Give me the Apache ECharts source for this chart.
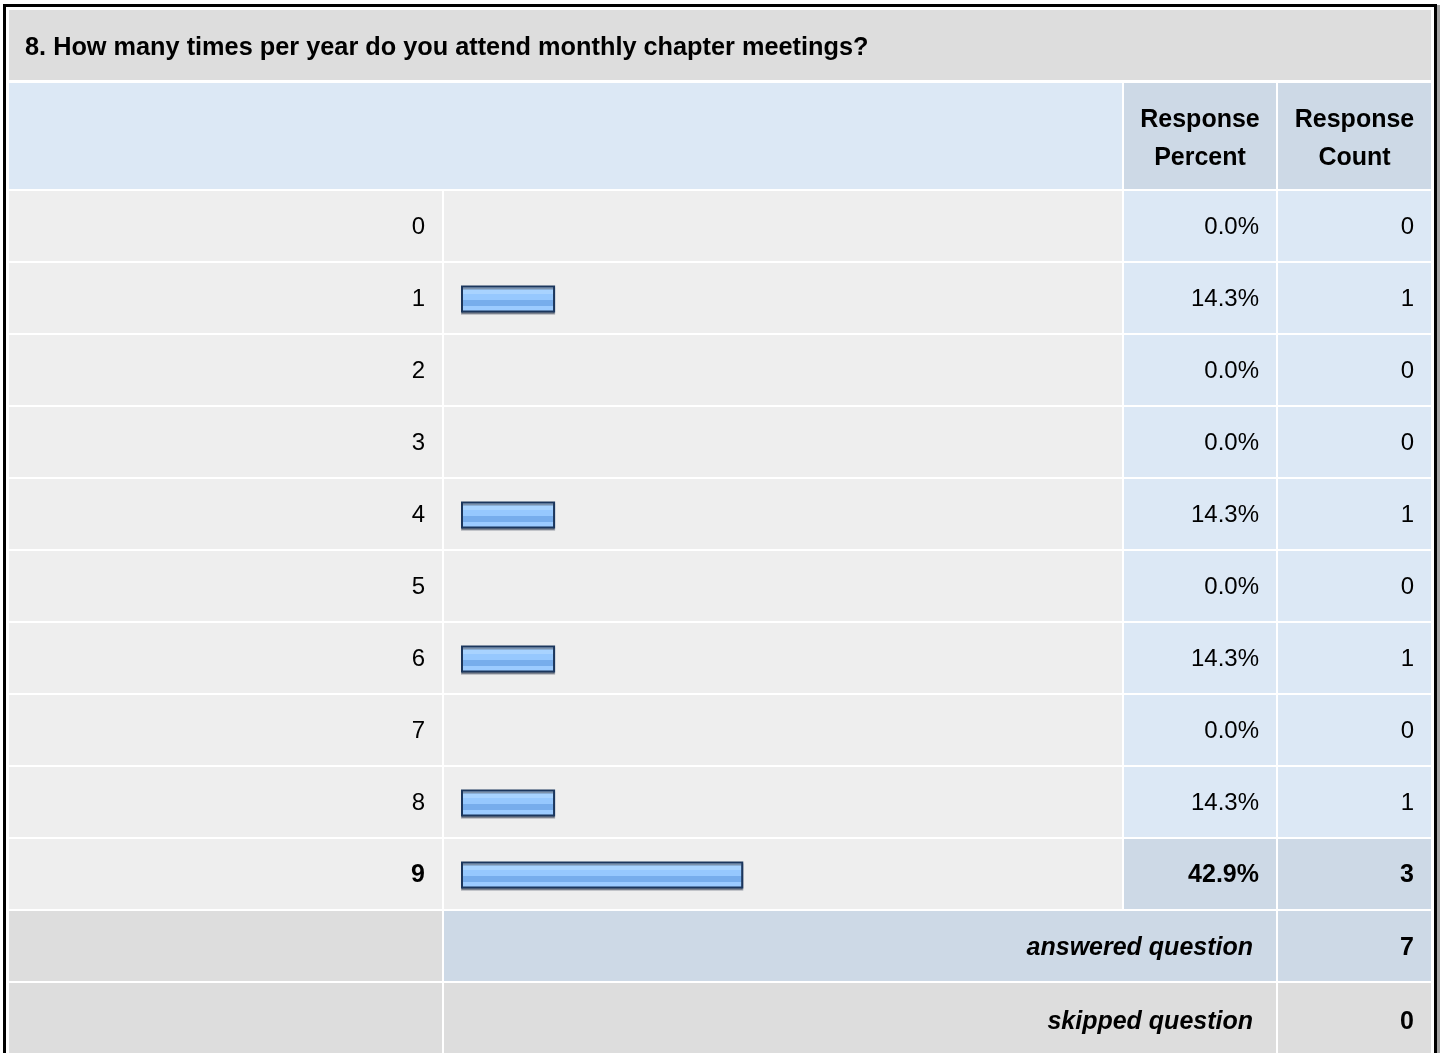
<!DOCTYPE html>
<html>
<head>
<meta charset="utf-8">
<script src="https://cdn.jsdelivr.net/npm/echarts@6/dist/echarts.min.js"></script>
<style>
  html, body { margin: 0; padding: 0; background: #fff; }
  #main { width: 1440px; height: 1053px; }
</style>
</head>
<body>
<div id="main"></div>
<script>
// survey data
var questionTitle = '8. How many times per year do you attend monthly chapter meetings?';
var categories = ['0', '1', '2', '3', '4', '5', '6', '7', '8', '9'];
var percents = [0.0, 14.3, 0.0, 0.0, 14.3, 0.0, 14.3, 0.0, 14.3, 42.9];
var counts = [0, 1, 0, 0, 1, 0, 1, 0, 1, 3];
var answeredCount = 7;
var skippedCount = 0;
var headerCols = ['Response\nPercent', 'Response\nCount'];

var FONT = '"Liberation Sans", Arial, sans-serif';

// table columns (x edges)
var colLabel = [9, 442], colBar = [444, 1122], colPct = [1124, 1276], colCnt = [1278, 1431];
var rowTop0 = 191, rowPitch = 72, rowH = 70;

// highest answer gets highlighted
var maxCount = Math.max.apply(null, counts);

var myChart = echarts.init(document.getElementById('main'));

function rect(x0, x1, y0, y1, fill) {
    return {type: 'rect', z: 0, silent: true,
        shape: {x: x0, y: y0, width: x1 - x0, height: y1 - y0}, style: {fill: fill}};
}
function txt(s, x, y, align, weight, fstyle, size) {
    var bold = weight === 'bold';
    return {type: 'text', z: 20, silent: true, x: x, y: y,
        style: {text: s, fill: '#000', fontFamily: FONT, fontSize: size || (bold ? 25 : 24),
            fontWeight: weight || 'normal', fontStyle: fstyle || 'normal',
            align: align, verticalAlign: 'middle', lineHeight: 38}};
}

var els = [];
// outer frame
els.push(rect(3, 1437, 4, 1053, '#000'));
els.push(rect(6, 1434, 7, 1053, '#fff'));
els.push(rect(1437, 1440, 5, 1053, '#a3a3a3'));

// title + header
els.push(rect(colLabel[0], colCnt[1], 10, 80, '#dddddd'));
els.push(txt(questionTitle, 25, 48, 'left', 'bold', 'normal', 25.3));
els.push(rect(colLabel[0], colBar[1], 83, 189, '#dce8f5'));
els.push(rect(colPct[0], colPct[1], 83, 189, '#cdd9e6'));
els.push(rect(colCnt[0], colCnt[1], 83, 189, '#cdd9e6'));
els.push(txt(headerCols[0], (colPct[0] + colPct[1]) / 2, 139, 'center', 'bold'));
els.push(txt(headerCols[1], (colCnt[0] + colCnt[1]) / 2, 139, 'center', 'bold'));

// answer rows
for (var i = 0; i < categories.length; i++) {
    var rowY = rowTop0 + rowPitch * i;
    var yc = rowY + rowPitch / 2;
    var hi = counts[i] === maxCount;
    var side = hi ? '#cdd9e6' : '#dce8f5';
    els.push(rect(colLabel[0], colLabel[1], rowY, rowY + rowH, '#eeeeee'));
    els.push(rect(colBar[0], colBar[1], rowY, rowY + rowH, '#eeeeee'));
    els.push(rect(colPct[0], colPct[1], rowY, rowY + rowH, side));
    els.push(rect(colCnt[0], colCnt[1], rowY, rowY + rowH, side));
    els.push(txt(percents[i].toFixed(1) + '%', 1259, yc, 'right', hi ? 'bold' : 'normal'));
    els.push(txt(String(counts[i]), 1414, yc, 'right', hi ? 'bold' : 'normal'));
}

// answered / skipped
var aTop = rowTop0 + rowPitch * categories.length;
var sTop = aTop + rowPitch;
els.push(rect(colLabel[0], colLabel[1], aTop, aTop + rowH, '#dddddd'));
els.push(rect(colBar[0], colPct[1], aTop, aTop + rowH, '#cdd9e6'));
els.push(rect(colCnt[0], colCnt[1], aTop, aTop + rowH, '#cdd9e6'));
els.push(txt('answered question', 1253, aTop + 37, 'right', 'bold', 'italic'));
els.push(txt(String(answeredCount), 1414, aTop + 37, 'right', 'bold'));
els.push(rect(colLabel[0], colLabel[1], sTop, 1053, '#dddddd'));
els.push(rect(colBar[0], colPct[1], sTop, 1053, '#dddddd'));
els.push(rect(colCnt[0], colCnt[1], sTop, 1053, '#dddddd'));
els.push(txt('skipped question', 1253, sTop + 39, 'right', 'bold', 'italic'));
els.push(txt(String(skippedCount), 1414, sTop + 39, 'right', 'bold'));

var option = {
    backgroundColor: '#fff',
    animation: false,
    graphic: els,
    grid: {left: 461, width: 658, top: rowTop0, height: rowPitch * categories.length},
    xAxis: {type: 'value', min: 0, max: 100, show: false},
    yAxis: {
        type: 'category',
        inverse: true,
        data: categories,
        z: 10,
        axisLine: {show: false},
        axisTick: {show: false},
        splitLine: {show: false},
        axisLabel: {
            margin: 36,
            fontFamily: FONT,
            fontSize: 24,
            color: '#000',
            formatter: function (v, i) {
                return counts[i] === maxCount ? '{b|' + v + '}' : v;
            },
            rich: {b: {fontFamily: FONT, fontSize: 25, fontWeight: 'bold', color: '#000'}}
        }
    },
    series: [{
        type: 'bar',
        barWidth: 27,
        z: 5,
        data: percents.map(function (v) { return v > 0 ? v : '-'; }),
        itemStyle: {
            color: {
                type: 'linear', x: 0, y: 0, x2: 0, y2: 1,
                colorStops: [
                    {offset: 0, color: '#c2e0ff'}, {offset: 0.12, color: '#c2e0ff'},
                    {offset: 0.12, color: '#a8d3ff'}, {offset: 0.30, color: '#a8d3ff'},
                    {offset: 0.30, color: '#96c8fe'}, {offset: 0.55, color: '#96c8fe'},
                    {offset: 0.55, color: '#77adec'}, {offset: 0.77, color: '#77adec'},
                    {offset: 0.77, color: '#9ccbff'}, {offset: 1, color: '#9ccbff'}
                ]
            },
            borderColor: '#1b365d',
            borderWidth: 2,
            shadowColor: 'rgba(40,50,70,0.45)',
            shadowOffsetX: 0,
            shadowOffsetY: 2,
            shadowBlur: 0
        }
    }]
};
myChart.setOption(option);
</script>
</body>
</html>
